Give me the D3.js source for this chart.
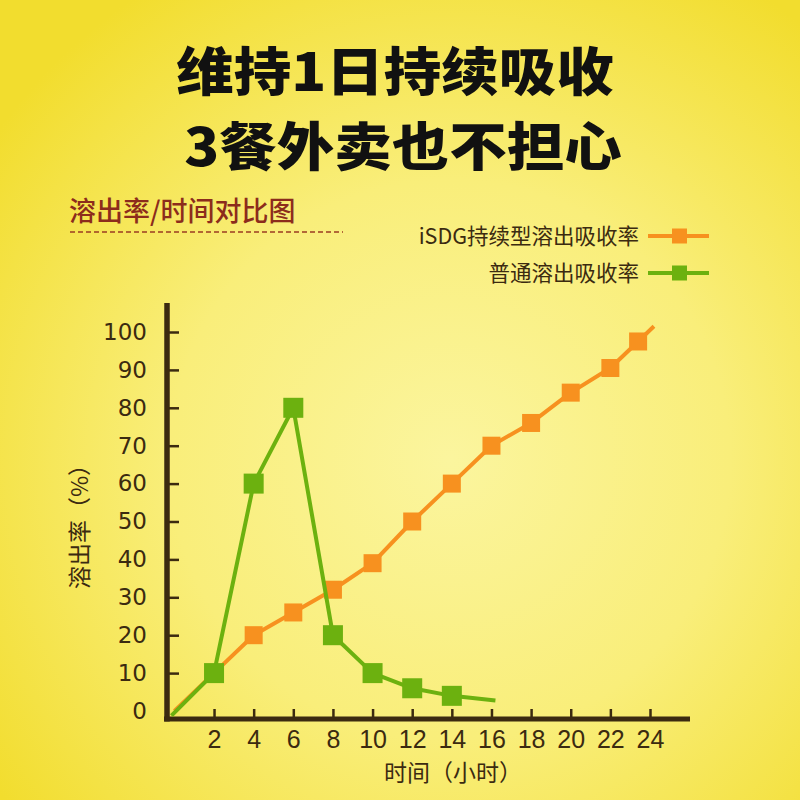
<!DOCTYPE html>
<html>
<head>
<meta charset="utf-8">
<script src="https://cdn.jsdelivr.net/npm/d3@7"></script>
<style>
  html, body { margin: 0; padding: 0; background: #f4e23c; }
  svg { display: block; }
  .tick text { fill: #3b2a10; }
</style>
</head>
<body>
<svg id="chart" width="800" height="800"></svg>
<script>
// values
var titleLines = ['维持1日持续吸收', '3餐外卖也不担心'];
var subTitle = '溶出率/时间对比图';
var seriesNames = ['iSDG持续型溶出吸收率', '普通溶出吸收率'];
var xTicks = [2, 4, 6, 8, 10, 12, 14, 16, 18, 20, 22, 24];
var yTicks = [0, 10, 20, 30, 40, 50, 60, 70, 80, 90, 100];

var sdgHours  = [0, 2, 4, 6, 8, 10, 12, 14, 16, 18, 20, 22, 23.4, 24.2];
var sdgValues = [0, 10, 20, 26, 32, 39, 50, 60, 70, 76, 84, 90.5, 97.5, 101.5];

var normalHours  = [-0.15, 2, 4, 6, 8, 10, 12, 14, 16.2];
var normalValues = [-1.2, 10, 60, 80, 20, 10, 6, 4, 2.8];

var ORANGE = '#f7911f';
var GREEN = '#6cb10f';
var INK = '#3b2a10';

var svg = d3.select('#chart');

/* background */
var defs = svg.append('defs');
var grad = defs.append('radialGradient')
    .attr('id', 'bg')
    .attr('gradientUnits', 'userSpaceOnUse')
    .attr('cx', 450).attr('cy', 460).attr('r', 560);
grad.append('stop').attr('offset', 0).attr('stop-color', '#fbf59e');
grad.append('stop').attr('offset', 0.5).attr('stop-color', '#f9ee7a');
grad.append('stop').attr('offset', 1).attr('stop-color', '#f2dd2e');
svg.append('rect').attr('width', 800).attr('height', 800).attr('fill', 'url(#bg)');

/* headline - stretched sideways so the two lines keep clear of each other */
svg.selectAll('text.title')
    .data(titleLines)
  .enter().append('text')
    .attr('class', 'title')
    .attr('transform', function(d, i) {
        return 'translate(' + (i == 0 ? 395 : 403) + ',' + (91 + i * 75) + ') scale(1.15,1.04)';
    })
    .attr('text-anchor', 'middle')
    .style('font-family', '"Noto Sans CJK SC", sans-serif')
    .style('font-weight', 900)
    .style('font-size', '50px')
    .attr('fill', '#111')
    .text(function(d) { return d; });

svg.append('text')
    .attr('x', 69).attr('y', 221)
    .style('font-family', '"Noto Sans CJK SC", sans-serif')
    .style('font-weight', 500)
    .style('font-size', '27px')
    .attr('fill', '#8c2c1c')
    .text(subTitle);

svg.append('line')
    .attr('x1', 70).attr('x2', 343)
    .attr('y1', 232).attr('y2', 232)
    .attr('stroke', '#9b3c22')
    .attr('stroke-width', 1.4)
    .attr('stroke-dasharray', '5,3');

/* scales */
var x = d3.scaleLinear().domain([0, 24]).range([174.4, 650]);
var y = d3.scaleLinear().domain([0, 100]).range([711, 332]);

/* axes */
var xAxis = d3.axisBottom(x).tickValues(xTicks).tickSizeInner(-10).tickSizeOuter(0).tickPadding(11);
var yAxis = d3.axisLeft(y).tickValues(yTicks).tickSizeInner(-12).tickSizeOuter(0).tickPadding(20);

var gx = svg.append('g').attr('transform', 'translate(0,719)').call(xAxis);
var gy = svg.append('g').attr('transform', 'translate(167,0)').call(yAxis);

gx.select('.domain').remove();
gy.select('.domain').remove();
gx.selectAll('.tick line').attr('stroke', INK).attr('stroke-width', 2.5);
gy.selectAll('.tick line').attr('stroke', INK).attr('stroke-width', 2.5)
    .filter(function(d) { return d == 0; }).remove();
gx.selectAll('.tick text')
    .style('font-family', '"Liberation Sans", Arial, sans-serif').style('font-size', '25px');
gy.selectAll('.tick text')
    .style('font-family', '"DejaVu Sans", sans-serif').style('font-size', '23px');

// axis lines
svg.append('line').attr('x1', 167).attr('x2', 167).attr('y1', 303).attr('y2', 721.5)
    .attr('stroke', INK).attr('stroke-width', 5.5);
svg.append('line').attr('x1', 164).attr('x2', 690).attr('y1', 719).attr('y2', 719)
    .attr('stroke', INK).attr('stroke-width', 5);

svg.append('text')
    .attr('transform', 'translate(88,521) rotate(-90)')
    .attr('text-anchor', 'middle')
    .style('font-family', '"Noto Sans CJK SC", sans-serif')
    .style('font-size', '23px')
    .attr('fill', INK)
    .text('溶出率（%）');

svg.append('text')
    .attr('x', 453).attr('y', 781)
    .attr('text-anchor', 'middle')
    .style('font-family', '"Noto Sans CJK SC", sans-serif')
    .style('font-size', '23px')
    .attr('fill', INK)
    .text('时间（小时）');

/* series */
function drawSeries(hours, values, color, size) {
    var pts = hours.map(function(h, i) { return {h: h, v: values[i]}; });
    var line = d3.line()
        .x(function(d) { return x(d.h); })
        .y(function(d) { return y(d.v); });
    var g = svg.append('g');
    g.append('path')
        .datum(pts)
        .attr('d', line)
        .attr('fill', 'none')
        .attr('stroke', color)
        .attr('stroke-width', 4)
        .attr('stroke-linejoin', 'round');
    // first and last points are plain line ends, no marker
    g.selectAll('rect')
        .data(pts.slice(1, pts.length - 1))
      .enter().append('rect')
        .attr('x', function(d) { return x(d.h) - size / 2; })
        .attr('y', function(d) { return y(d.v) - size / 2; })
        .attr('width', size).attr('height', size)
        .attr('fill', color);
}

drawSeries(sdgHours, sdgValues, ORANGE, 18);
drawSeries(normalHours, normalValues, GREEN, 20);

/* legend */
var legend = svg.append('g');
var legendItems = legend.selectAll('g')
    .data([{name: seriesNames[0], color: ORANGE}, {name: seriesNames[1], color: GREEN}])
  .enter().append('g')
    .attr('transform', function(d, i) { return 'translate(0,' + (236 + i * 37) + ')'; });
legendItems.append('text')
    .attr('x', 639).attr('dy', '0.36em')
    .attr('text-anchor', 'end')
    .style('font-family', '"Noto Sans CJK SC", sans-serif')
    .style('font-size', '21.5px')
    .attr('fill', INK)
    .text(function(d) { return d.name; });
legendItems.append('line')
    .attr('x1', 648).attr('x2', 709)
    .attr('stroke', function(d) { return d.color; })
    .attr('stroke-width', 4);
legendItems.append('rect')
    .attr('x', 672).attr('y', -7.5)
    .attr('width', 15).attr('height', 15)
    .attr('fill', function(d) { return d.color; });
</script>
</body>
</html>
